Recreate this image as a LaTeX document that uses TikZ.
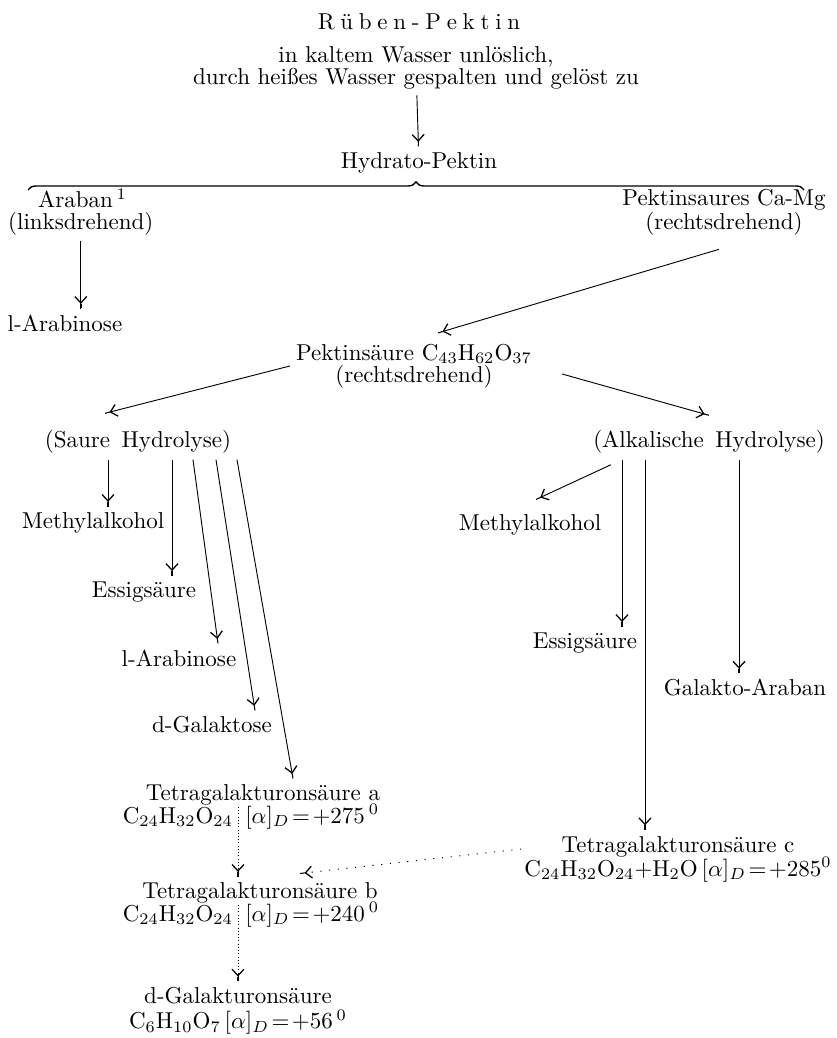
\documentclass[tikz,border=0pt]{standalone}
\usepackage{amsmath}
\usepackage{tikz}
\usetikzlibrary{positioning, arrows.meta, calc, decorations.pathreplacing}

\newcommand{\gsp}{\kern2.5pt}

\begin{document}
\begin{tikzpicture}[x=0.435pt, y=-0.435pt,
    >={Straight Barb[length=2.8pt,width=5.2pt,line width=0.55pt]Rectangle[length=2pt,width=0.45pt]},
    every node/.style={inner sep=2.5pt, align=center, font=\fontsize{10}{9.5}\selectfont},
    faint/.style={densely dotted},
    dots/.style={dash pattern=on 0.5pt off 3.3pt}]
  \useasboundingbox (0,0) rectangle (836,1038);

  \node (title) at (419,22) {R\gsp ü\gsp b\gsp e\gsp n\gsp -\gsp P\gsp e\gsp k\gsp t\gsp i\gsp n};
  \node (intro) at (416,68) {in kaltem Wasser unlöslich,\\durch heißes Wasser gespalten und gelöst zu};
  \node (hydrato) at (419,163) {Hydrato-Pektin};
  \node[anchor=west, align=left] (araban) at (2,212) {\hspace*{13pt}Araban\,$^1$\\(linksdrehend)};
  \node (casalz) at (724,212) {Pektinsaures Ca-Mg\\(rechtsdrehend)};
  \node (arabinoseL) at (65,323) {l-Arabinose};
  \node (pektin) at (414,366) {Pektinsäure C$_{43}$H$_{62}$O$_{37}$\\(rechtsdrehend)};
  \node (sauer) at (138,442) {(Saure\enspace Hydrolyse)};
  \node (alkali) at (709,442) {(Alkalische\enspace Hydrolyse)};

  % saure Hydrolyse
  \node (methylL) at (93,523) {Methylalkohol};
  \node (essigL) at (144,592) {Essigsäure};
  \node (arabinoseS) at (179,658) {l-Arabinose};
  \node (galaktose) at (212,725) {d-Galaktose};
  \node (tetraA) at (263,795) {Tetragalakturonsäure a};
  \coordinate (sepA) at (238,823);
  \node[anchor=base east, inner xsep=2pt] (formAl) at (sepA) {C$_{24}$H$_{32}$O$_{24}$};
  \node[anchor=base west, inner xsep=3pt] (formAr) at (sepA) {$[\alpha]_D\!=\!+275\,^{0}$};
  \node (tetraB) at (260,893) {Tetragalakturonsäure b};
  \coordinate (sepB) at (238,921);
  \node[anchor=base east, inner xsep=2pt] (formBl) at (sepB) {C$_{24}$H$_{32}$O$_{24}$};
  \node[anchor=base west, inner xsep=3pt] (formBr) at (sepB) {$[\alpha]_D\!=\!+240\,^{0}$};
  \node[font=\fontsize{10}{11}\selectfont] (galakturon) at (238,1011) {d-Galakturonsäure\\C$_6$H$_{10}$O$_7\,[\alpha]_D\!=\!+56\,^{0}$};

  % alkalische Hydrolyse
  \node (methylR) at (530,525) {Methylalkohol};
  \node (essigR) at (585,643) {Essigsäure};
  \node (galaraban) at (745,688) {Galakto-Araban};
  \node[font=\fontsize{10}{10.5}\selectfont] (tetraC) at (678,859) {Tetragalakturonsäure c\\C$_{24}$H$_{32}$O$_{24}+$H$_2$O$\,[\alpha]_D\!=\!+285^{0}$};

  \draw[decorate, decoration={brace, amplitude=3.5pt}, line width=.6pt] (28,190) -- (804,190);

  \draw[->] (intro) -- (hydrato);
  \draw[->] (araban.south) -- (araban.south |- arabinoseL.north);
  \draw[->] ($(casalz.south)+(-5,8)$) -- ($(pektin.north)+(24,-5)$);
  \draw[->] (pektin.west) -- ($(sauer.north)+(-33,-11)$);
  \draw[->] ($(pektin.east)+(24,8)$) -- ($(alkali.north)+(0,-9)$);

  \coordinate (sMethyl) at ($(sauer.south)+(-30,0)$);
  \draw[->] (sMethyl) -- (sMethyl |- methylL.north);
  \draw[->] ($(sauer.south)+(34,0)$) -- ($(essigL.north)+(28,0)$);
  \draw[->] ($(sauer.south)+(55,0)$) -- ($(arabinoseS.north)+(39,0)$);
  \draw[->] ($(sauer.south)+(78,0)$) -- ($(galaktose.north)+(43,0)$);
  \draw[->] ($(sauer.south)+(99,0)$) -- ($(tetraA.north)+(30,0)$);
  \draw[->, faint] ($(sepA)+(0,-16)$) -- (sepA |- tetraB.north);
  \draw[->, faint] ($(sepB)+(0,-16)$) -- (sepB |- galakturon.north);

  \draw[->] ($(alkali.south)+(-98,5)$) -- ($(methylR.north)+(6,-9)$);
  \coordinate (aEssig) at ($(alkali.south)+(-87,0)$);
  \draw[->] (aEssig) -- (aEssig |- essigR.north);
  \coordinate (aTetra) at ($(alkali.south)+(-64,0)$);
  \draw[->] (aTetra) -- (aTetra |- tetraC.north);
  \coordinate (aGalakt) at ($(alkali.south)+(30,0)$);
  \draw[->] (aGalakt) -- (aGalakt |- galaraban.north);
  \draw[->, dots] ($(tetraC.west)+(3,-10)$) -- ($(tetraB.north)+(40,-3)$);
\end{tikzpicture}
\end{document}
